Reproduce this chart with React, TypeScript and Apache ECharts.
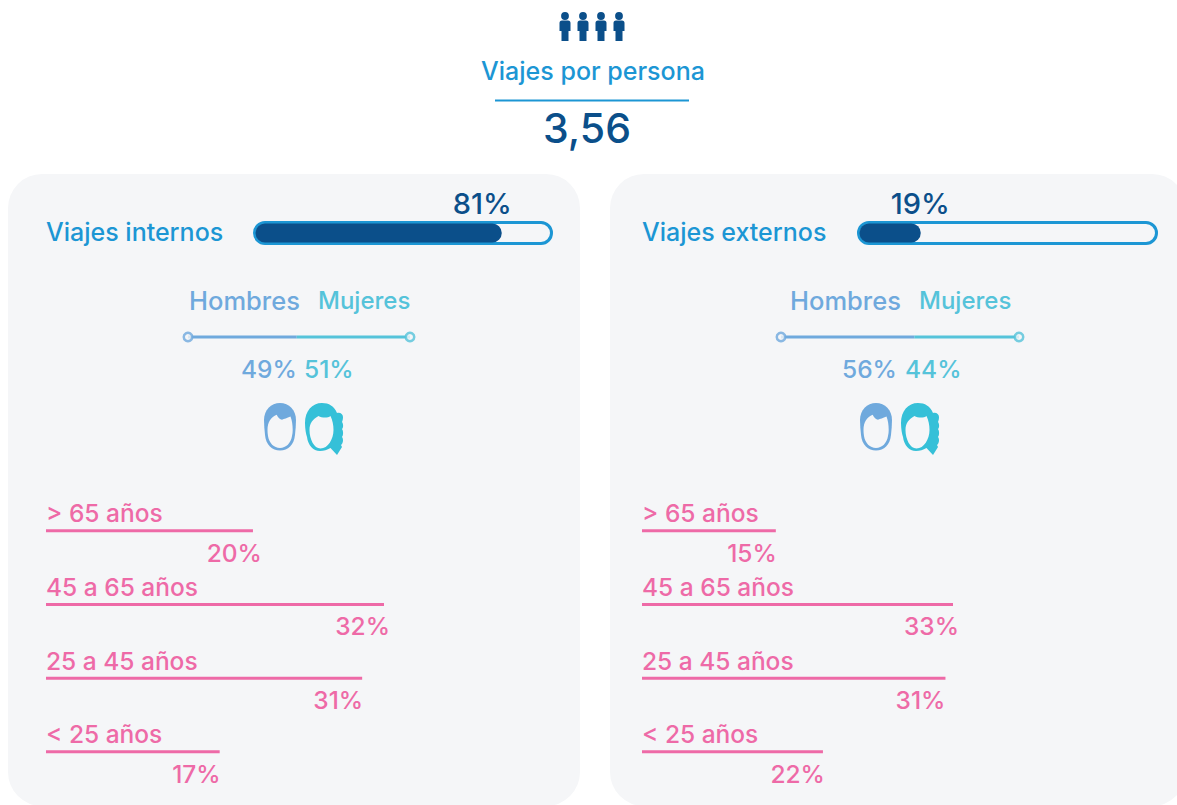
import React, { useEffect, useRef } from "react";
import * as echarts from "echarts";

// ---- data ----
const headline = "Viajes por persona";
const headlineValue = "3,56";
const tripTitles = ["Viajes internos", "Viajes externos"];
const tripShareLabels = ["81%", "19%"];
// Fill length of the progress bars as drawn (the source art is not exactly to scale)
const tripFillDrawn = [83.2, 20.7];
const genderNames = ["Hombres", "Mujeres"];
const menShare = [49, 56];
const womenShare = [51, 44];
const ageCategories = ["> 65 años", "45 a 65 años", "25 a 45 años", "< 25 años"];
const ageLabelsInternal = ["20%", "32%", "31%", "17%"];
const ageLabelsExternal = ["15%", "33%", "31%", "22%"];
// Bar lengths as drawn in the source art (not exactly proportional to its labels)
const ageDrawnInternal = [19.9, 32.5, 30.4, 16.7];
const ageDrawnExternal = [14.2, 33, 32.2, 19.2];

// ---- styles ----
const FONT = "Inter";
const NAVY = "#0b4f8a";
const BLUE = "#1c96d4";
const MEN = "#6fa9dd";
const WOMEN_TEXT = "#55c3da";
const WOMEN = "#35c0d8";
const PINK = "#ee6aa7";
const PANEL = "#f5f6f8";

const PERSON = "M1.6 4a3.9 3.9 0 1 0 7.8 0a3.9 3.9 0 1 0 -7.8 0ZM2.5 8.5H8.5Q11 8.500 11 11V19H9V29H2V19H0V11Q0 8.500 2.500 8.500Z";
const MAN_OUTER = "M0 17C0 7 7 0 16 0C25 0 32 7 32 17C32 22 31.500 27 31 32C30 42 24 47.500 16 47.500C8 47.500 2 42 1 32C.5 27 0 22 0 17Z";
const MAN_FACE = "M3.500 27C3.500 19 7 14 12.700 11.700C14 14.500 16 16.500 18 16.700C20 16 23 15 26.500 13.500C28 17 28.700 22 28.700 27C28.700 29 28.500 31 28 33C27 40 22 45 16 45C10 45 5 40 4 33C3.700 31 3.500 29 3.500 27Z";
const WOMAN_OUTER = "M0 20C0 8 7 0 17 0C24 0 29 3 32 10C35 9 38 11 38 14C38 16 37.500 18 37 19C38.500 21 38.500 25 37 26C38.500 28 38.500 32 37 34C38.500 36 38.500 40 36 42L37 44L32 52L25.500 45C22 47 19 48 15 48C8 48 3 42 2 34C1 31 0 26 0 20Z";
const WOMAN_FACE = "M4.500 27C4.500 20 8 16 13.500 13C17 15 23 15 25.500 13C27.500 17 28.500 22 28.500 27C28.500 36 23 45.500 15.500 45.500C9 45.500 4.500 36 4.500 27Z";

const registerIcons = () => {
  const g: any = echarts.graphic;
  g.registerShape("person", g.extendPath(PERSON, {}));
  g.registerShape("manOuter", g.extendPath(MAN_OUTER, {}));
  g.registerShape("manFace", g.extendPath(MAN_FACE, {}));
  g.registerShape("womanOuter", g.extendPath(WOMAN_OUTER, {}));
  g.registerShape("womanFace", g.extendPath(WOMAN_FACE, {}));
};

const panels = [
  {
    panel: [8, 174, 572, 632], titleX: 46, track: [254.5, 222.5, 297, 21], fillLeft: 255.5, fillW: 296,
    shareDx: 10, lineLeft: 188, lineW: 222, nameX: [189, 318], pctX: [241, 304], manX: 264, womanX: 305,
    ageLeft: 46, ageW: 338, ageMax: 32.5, ageLabels: ageLabelsInternal, ageDrawn: ageDrawnInternal, ageDx: [9, 6, 1, 1],
  },
  {
    panel: [610, 174, 576, 632], titleX: 642, track: [858.5, 222.5, 298, 21], fillLeft: 859.5, fillW: 296,
    shareDx: 29, lineLeft: 781, lineW: 238, nameX: [790, 919], pctX: [842, 905], manX: 860, womanX: 901,
    ageLeft: 642, ageW: 311, ageMax: 33, ageLabels: ageLabelsExternal, ageDrawn: ageDrawnExternal, ageDx: [1, 6, 0, 2],
  },
];

const txt = (text: string, x: number, y: number, size: number, fill: string, align = "left", weight = 500) => ({
  type: "text", x, y,
  style: { text, fontFamily: FONT, fontSize: size, fontWeight: weight, fill, align, verticalAlign: "middle" },
});

const buildOption = () => {
  const grid: any[] = [], xAxis: any[] = [], yAxis: any[] = [], series: any[] = [];
  const graphic: any[] = [];
  const addGrid = (left: number, top: number, width: number, height: number, max: number, cats: string[], yExtra: any = {}) => {
    const i = grid.length;
    grid.push({ left, top, width, height, containLabel: false });
    xAxis.push({ type: "value", gridIndex: i, min: 0, max, show: false });
    yAxis.push({ type: "category", gridIndex: i, data: cats, inverse: true, axisLine: { show: false }, axisTick: { show: false }, axisLabel: { show: false }, ...yExtra });
    return i;
  };

  // headline
  [565, 583, 601, 619].forEach((cx) =>
    graphic.push({ type: "person", x: cx - 5.5, y: 12, style: { fill: NAVY } })
  );
  graphic.push(txt(headline, 593, 71, 25, BLUE, "center"));
  graphic.push({ type: "line", shape: { x1: 495, y1: 100.5, x2: 689, y2: 100.5 }, style: { stroke: BLUE, lineWidth: 2 } });
  graphic.push(txt(headlineValue, 587, 128, 41, NAVY, "center", 500));

  panels.forEach((p, k) => {
    const [px, py, pw, ph] = p.panel;
    graphic.push({ type: "rect", shape: { x: px, y: py, width: pw, height: ph, r: 34 }, style: { fill: PANEL } });
    graphic.push(txt(tripTitles[k], p.titleX, 232, 25, BLUE));
    const [tx, ty, tw, th] = p.track;
    graphic.push({ type: "rect", shape: { x: tx, y: ty, width: tw, height: th, r: 10.5 }, style: { fill: PANEL, stroke: BLUE, lineWidth: 3 } });

    // progress fill
    const g1 = addGrid(p.fillLeft, 221, p.fillW, 24, 100, [tripTitles[k]]);
    series.push({
      type: "bar", xAxisIndex: g1, yAxisIndex: g1, barWidth: 19, data: [tripFillDrawn[k]],
      itemStyle: { color: NAVY, borderRadius: 9.5 },
      label: {
        show: true, position: "insideRight", distance: 0, offset: [p.shareDx, -30],
        formatter: () => tripShareLabels[k], fontFamily: FONT, fontSize: 29, fontWeight: 500, color: NAVY,
      },
    });

    // gender names and split line
    graphic.push(txt(genderNames[0], p.nameX[0], 300, 25.5, MEN));
    graphic.push(txt(genderNames[1], p.nameX[1], 300, 24, WOMEN_TEXT));
    graphic.push(txt(`${menShare[k]}%`, p.pctX[0], 369, 24.5, MEN));
    graphic.push(txt(`${womenShare[k]}%`, p.pctX[1], 369, 24.5, WOMEN_TEXT));
    const g2 = addGrid(p.lineLeft, 330, p.lineW, 14, 100, ["g"]);
    series.push(
      { type: "bar", stack: `g${k}`, xAxisIndex: g2, yAxisIndex: g2, barWidth: 3, data: [menShare[k]], itemStyle: { color: MEN } },
      { type: "bar", stack: `g${k}`, xAxisIndex: g2, yAxisIndex: g2, barWidth: 3, data: [womenShare[k]], itemStyle: { color: WOMEN_TEXT } },
      {
        type: "scatter", xAxisIndex: g2, yAxisIndex: g2, symbolSize: 8.5, z: 5, clip: false,
        data: [
          { value: [0, "g"], itemStyle: { color: PANEL, borderColor: MEN, borderWidth: 2.5 } },
          { value: [100, "g"], itemStyle: { color: PANEL, borderColor: WOMEN_TEXT, borderWidth: 2.5 } },
        ],
      }
    );

    // face icons
    graphic.push({ type: "manOuter", x: p.manX, y: 403, style: { fill: MEN } });
    graphic.push({ type: "manFace", x: p.manX, y: 403, style: { fill: PANEL } });
    graphic.push({ type: "womanOuter", x: p.womanX, y: 403, style: { fill: WOMEN } });
    graphic.push({ type: "womanFace", x: p.womanX, y: 403, style: { fill: PANEL } });

    // age bars
    const g3 = addGrid(p.ageLeft, 494, p.ageW, 294.6, p.ageMax, ageCategories, {
      axisLabel: {
        show: true, inside: true, margin: 0, align: "left", verticalAlign: "bottom", padding: [0, 0, 5, 0],
        fontFamily: FONT, fontSize: 24.5, fontWeight: 500, color: PINK,
      },
      z: 4,
    });
    series.push({
      type: "bar", xAxisIndex: g3, yAxisIndex: g3, barWidth: 3, data: p.ageDrawn,
      itemStyle: { color: PINK },
      label: {
        show: true, position: "insideRight", distance: 0,
        formatter: (d: any) => p.ageLabels[d.dataIndex], fontFamily: FONT, fontSize: 24.5, fontWeight: 500, color: PINK,
      },
      labelLayout: (params: any) => ({ dx: p.ageDx[params.dataIndex], dy: 22 }),
    });
  });

  return { animation: false, backgroundColor: "#ffffff", grid, xAxis, yAxis, series, graphic: { elements: graphic } };
};

export default function App() {
  const ref = useRef<HTMLDivElement>(null);
  useEffect(() => {
    document.body.style.margin = "0";
    registerIcons();
    const chart = echarts.init(ref.current as HTMLDivElement, undefined, { renderer: "svg" });
    chart.setOption(buildOption() as any);
    return () => chart.dispose();
  }, []);
  return <div ref={ref} style={{ width: 1177, height: 805, overflow: "hidden" }} />;
}
